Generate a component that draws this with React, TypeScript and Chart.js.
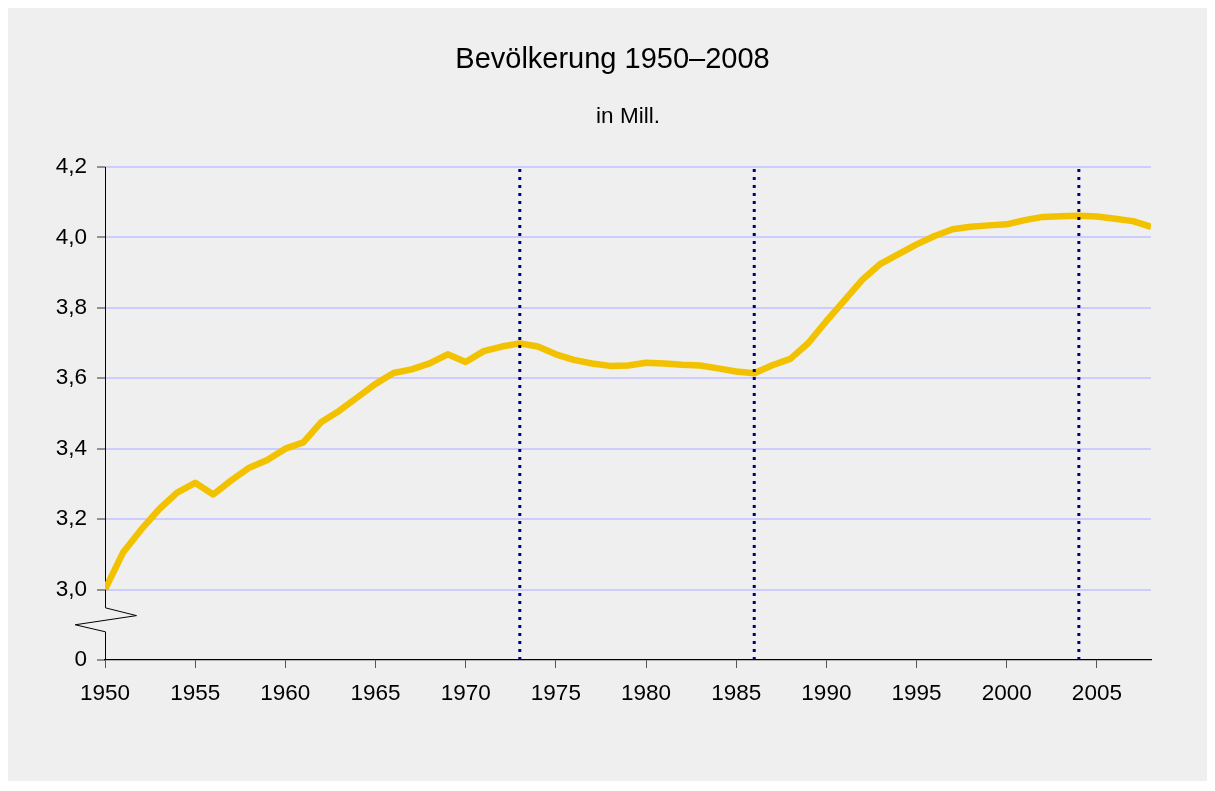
import React, { useEffect, useRef } from "react";
import { Chart, registerables } from "chart.js";

Chart.register(...registerables);

const titleText = "Bevölkerung 1950–2008";
const subtitleText = "in Mill.";

const years: number[] = [
  1950, 1951, 1952, 1953, 1954, 1955, 1956, 1957, 1958, 1959,
  1960, 1961, 1962, 1963, 1964, 1965, 1966, 1967, 1968, 1969,
  1970, 1971, 1972, 1973, 1974, 1975, 1976, 1977, 1978, 1979,
  1980, 1981, 1982, 1983, 1984, 1985, 1986, 1987, 1988, 1989,
  1990, 1991, 1992, 1993, 1994, 1995, 1996, 1997, 1998, 1999,
  2000, 2001, 2002, 2003, 2004, 2005, 2006, 2007, 2008,
];

const population: number[] = [
  3.0, 3.105, 3.17, 3.228, 3.275, 3.303, 3.27, 3.31, 3.346, 3.368,
  3.4, 3.418, 3.476, 3.508, 3.546, 3.584, 3.615, 3.625, 3.642, 3.668,
  3.646, 3.677, 3.69, 3.699, 3.69, 3.668, 3.652, 3.642, 3.635, 3.636,
  3.644, 3.642, 3.638, 3.636, 3.628, 3.619, 3.614, 3.637, 3.655, 3.7,
  3.762, 3.821, 3.88, 3.925, 3.952, 3.98, 4.004, 4.023, 4.03, 4.034,
  4.037, 4.049, 4.058, 4.06, 4.061, 4.059, 4.053, 4.046, 4.03,
];

const markerYears: number[] = [1973, 1986, 2004];

const xTickValues: number[] = [1950, 1955, 1960, 1965, 1970, 1975, 1980, 1985, 1990, 1995, 2000, 2005];
const yTickValues: number[] = [2.8, 3.0, 3.2, 3.4, 3.6, 3.8, 4.0, 4.2];
const yTickLabels: string[] = ["0", "3,0", "3,2", "3,4", "3,6", "3,8", "4,0", "4,2"];
const yMin = 2.8;
const yMax = 4.2;
const yBreakValue = 3.0;
const xMin = 1950;
const xMax = 2008;

const FONT = "'Liberation Sans', Arial, Helvetica, sans-serif";

const axisBreak = {
  id: "axisBreak",
  beforeDatasetsDraw(chart: any) {
    const ys = chart.scales.y;
    const ctx = chart.ctx;
    const x0 = Math.round(chart.chartArea.left) + 0.5;
    const top = ys.getPixelForValue(yMax);
    const bottom = ys.getPixelForValue(yMin);
    const base = ys.getPixelForValue(yBreakValue);
    const gap = bottom - base;
    ctx.save();
    ctx.strokeStyle = "#000";
    ctx.lineWidth = 1;
    ctx.beginPath();
    ctx.moveTo(x0, top);
    ctx.lineTo(x0, base + gap * 0.26);
    ctx.lineTo(x0 + gap * 0.44, base + gap * 0.37);
    ctx.lineTo(x0 - gap * 0.43, base + gap * 0.5);
    ctx.lineTo(x0, base + gap * 0.6);
    ctx.lineTo(x0, bottom);
    ctx.stroke();
    ctx.restore();
  },
};

export default function App() {
  const canvasRef = useRef<HTMLCanvasElement | null>(null);

  useEffect(() => {
    if (!canvasRef.current) return;
    const markerSets = markerYears.map((yr) => ({
      type: "line" as const,
      data: [
        { x: yr, y: yMin },
        { x: yr, y: yMax },
      ],
      borderColor: "#000080",
      borderWidth: 3,
      borderDash: [3, 5],
      borderCapStyle: "butt" as const,
      pointRadius: 0,
      fill: false,
      order: 1,
      clip: false as any,
    }));
    const chart = new Chart(canvasRef.current, {
      type: "line",
      data: {
        datasets: [
          {
            data: years.map((yr, i) => ({ x: yr, y: population[i] })),
            borderColor: "#f2c200",
            borderWidth: 6.5,
            pointRadius: 0,
            tension: 0,
            fill: false,
            borderJoinStyle: "round",
            order: 2,
          },
          ...markerSets,
        ],
      },
      options: {
        animation: false,
        responsive: true,
        maintainAspectRatio: false,
        layout: { padding: { left: 40, right: 30, top: 0, bottom: 0 } },
        plugins: {
          legend: { display: false },
          tooltip: { enabled: false },
          title: {
            display: true,
            text: titleText,
            color: "#000",
            font: { family: FONT, size: 29, weight: "normal" },
            padding: { top: 34.6, bottom: 0 },
          },
          subtitle: {
            display: true,
            text: subtitleText,
            color: "#000",
            fullSize: false,
            font: { family: FONT, size: 22.5, weight: "normal" },
            padding: { top: 26, bottom: 36.5 },
          },
        },
        scales: {
          x: {
            type: "linear",
            min: xMin,
            max: xMax,
            afterBuildTicks: (scale: any) => {
              scale.ticks = xTickValues.map((v) => ({ value: v }));
            },
            afterFit: (scale: any) => {
              scale.height = 121;
            },
            ticks: {
              autoSkip: false,
              maxRotation: 0,
              color: "#000",
              padding: 12,
              font: { family: FONT, size: 22.5 },
              callback: (v: any) => String(v),
            },
            grid: {
              drawOnChartArea: false,
              drawTicks: true,
              tickLength: 8,
              tickColor: "#555",
              tickWidth: 1,
            },
            border: { display: true, color: "#000", width: 1.3 },
          },
          y: {
            type: "linear",
            min: yMin,
            max: yMax,
            afterBuildTicks: (scale: any) => {
              scale.ticks = yTickValues.map((v) => ({ value: v }));
            },
            afterFit: (scale: any) => {
              scale.width = 57;
            },
            ticks: {
              color: "#000",
              padding: 10,
              font: { family: FONT, size: 22.5 },
              callback: (_v: any, i: number) => yTickLabels[i],
            },
            grid: {
              color: (c: any) => (c.index === 0 ? "rgba(0,0,0,0)" : "#ccccff"),
              lineWidth: 2,
              drawTicks: true,
              tickLength: 8,
              tickColor: "#333",
              tickWidth: 1,
            },
            border: { display: false },
          },
          yRight: {
            type: "linear",
            position: "right",
            display: true,
            min: yMin,
            max: yMax,
            afterFit: (scale: any) => {
              scale.width = 26;
            },
            ticks: { display: false },
            grid: { display: false, drawTicks: false },
            border: { display: false },
          },
        },
      },
      plugins: [axisBreak],
    });
    return () => chart.destroy();
  }, []);

  return (
    <div style={{ width: 1199, height: 773, background: "#eeefee", position: "relative" }}>
      <canvas ref={canvasRef} />
    </div>
  );
}
